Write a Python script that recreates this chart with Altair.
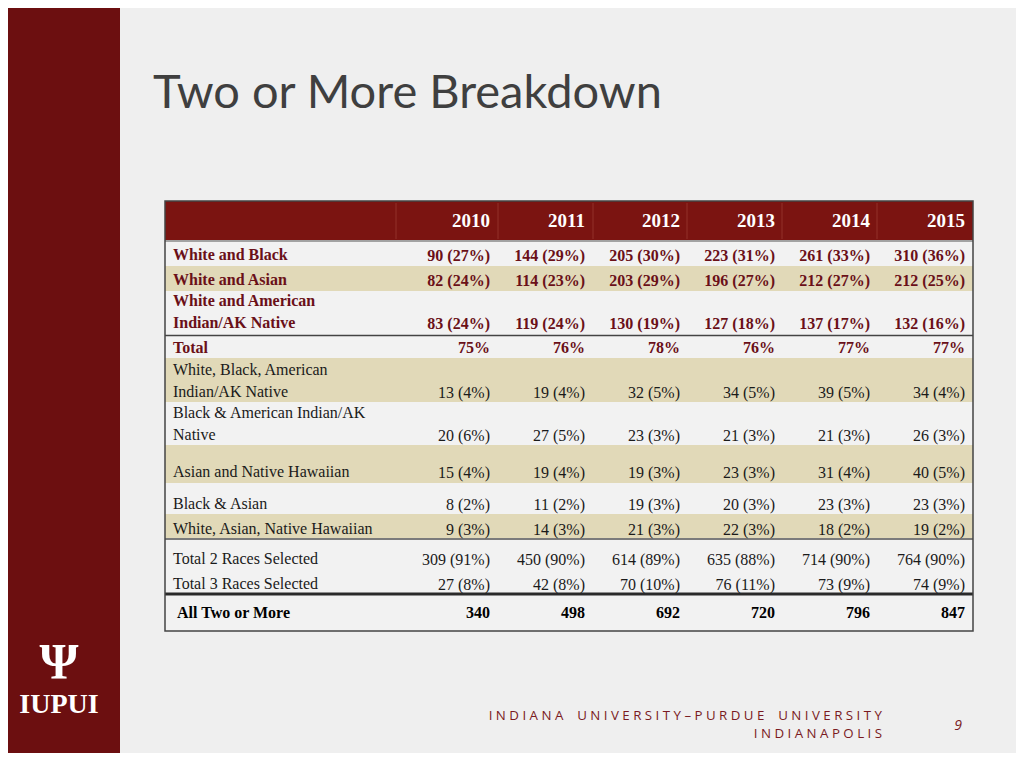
import altair as alt
import pandas as pd

# ---------------- data ----------------
title = "Two or More Breakdown"
years = ["2010", "2011", "2012", "2013", "2014", "2015"]

row_labels = [
    "White and Black",
    "White and Asian",
    "White and American\nIndian/AK Native",
    "Total",
    "White, Black, American\nIndian/AK Native",
    "Black & American Indian/AK\nNative",
    "Asian and Native Hawaiian",
    "Black & Asian",
    "White, Asian, Native Hawaiian",
    "Total 2 Races Selected",
    "Total 3 Races Selected",
    "All Two or More",
]

n_white_black = [90, 144, 205, 223, 261, 310]
p_white_black = [27, 29, 30, 31, 33, 36]
n_white_asian = [82, 114, 203, 196, 212, 212]
p_white_asian = [24, 23, 29, 27, 27, 25]
n_white_aian = [83, 119, 130, 127, 137, 132]
p_white_aian = [24, 24, 19, 18, 17, 16]
p_total = [75, 76, 78, 76, 77, 77]
n_wb_aian = [13, 19, 32, 34, 39, 34]
p_wb_aian = [4, 4, 5, 5, 5, 4]
n_b_aian = [20, 27, 23, 21, 21, 26]
p_b_aian = [6, 5, 3, 3, 3, 3]
n_asian_nh = [15, 19, 19, 23, 31, 40]
p_asian_nh = [4, 4, 3, 3, 4, 5]
n_black_asian = [8, 11, 19, 20, 23, 23]
p_black_asian = [2, 2, 3, 3, 3, 3]
n_w_a_nh = [9, 14, 21, 22, 18, 19]
p_w_a_nh = [3, 3, 3, 3, 2, 2]
n_total2 = [309, 450, 614, 635, 714, 764]
p_total2 = [91, 90, 89, 88, 90, 90]
n_total3 = [27, 42, 70, 76, 73, 74]
p_total3 = [8, 8, 10, 11, 9, 9]
n_all = [340, 498, 692, 720, 796, 847]

row_counts = [n_white_black, n_white_asian, n_white_aian, None, n_wb_aian, n_b_aian,
              n_asian_nh, n_black_asian, n_w_a_nh, n_total2, n_total3, n_all]
row_pcts = [p_white_black, p_white_asian, p_white_aian, p_total, p_wb_aian, p_b_aian,
            p_asian_nh, p_black_asian, p_w_a_nh, p_total2, p_total3, None]

footer_line1 = "INDIANA UNIVERSITY–PURDUE UNIVERSITY"
footer_line2 = "INDIANAPOLIS"
page_number = "9"
logo_text = "IUPUI"
logo_symbol = "Ψ"

# ---------------- layout (slide pixel space) ----------------
col_right = [490, 585, 680, 775, 870, 965]
header_sep = [396, 498, 593, 687, 782, 877]
tbl_left, tbl_right, tbl_top, tbl_bottom = 165, 973, 201, 631
header_bottom = 240
header_y = 221
label_x = [173] * 11 + [177]
label_line_y = [[255], [280], [301, 323], [348], [370, 392], [413, 435], [472],
                [504], [529], [559], [584], [613]]
value_y = [256, 281, 324, 348, 393, 436, 473, 505, 530, 560, 585, 613]
row_bands = [(241, 266), (266, 291), (291, 335), (336, 358), (358, 402), (402, 445),
             (445, 483), (483, 514), (514, 538), (540, 567), (567, 593), (595, 631)]
row_tan = [False, True, False, False, True, False, True, False, True, False, False, False]
row_style = ["red"] * 4 + ["plain"] * 7 + ["black"]

SLIDE_BG = "#efefef"
LIGHT_ROW = "#f2f2f2"
TAN = "#e1d9b8"
STRIP = "#6c0f10"
HEADER = "#7b1411"
DARK_RED = "#6a1018"
BLACK = "#1a1a1a"

xs = alt.Scale(domain=[0, 1024], range=[-8, 1016])
ys = alt.Scale(domain=[0, 768], range=[-8, 760])


def X(f="x"):
    return alt.X(f"{f}:Q", scale=xs, axis=None)


def Y(f="y"):
    return alt.Y(f"{f}:Q", scale=ys, axis=None)


# ---------------- rectangles ----------------
rects = [dict(x=0, x2=120, y=0, y2=768, fill=STRIP),
         dict(x=tbl_left, x2=tbl_right, y=tbl_top, y2=header_bottom, fill=HEADER)]
for (a, b), tan in zip(row_bands, row_tan):
    rects.append(dict(x=tbl_left, x2=tbl_right, y=a, y2=b, fill=TAN if tan else LIGHT_ROW))
rect_df = pd.DataFrame(rects)
rect_layer = alt.Chart(rect_df).mark_rect().encode(
    x=X("x"), x2="x2:Q", y=Y("y"), y2="y2:Q", color=alt.Color("fill:N", scale=None))

# ---------------- rules ----------------
rules = []
for sx in header_sep:
    rules.append(dict(x=sx, x2=sx, y=tbl_top + 2, y2=header_bottom - 1, c="#93302b", w=1))
rules += [
    dict(x=tbl_left, x2=tbl_right, y=241, y2=241, c="#555555", w=1),
    dict(x=tbl_left, x2=tbl_right, y=335.5, y2=335.5, c="#444444", w=1.5),
    dict(x=tbl_left, x2=tbl_right, y=539, y2=539, c="#555555", w=1.5),
    dict(x=tbl_left, x2=tbl_right, y=594, y2=594, c="#2a2a2a", w=3),
]
rule_df = pd.DataFrame(rules)
rule_layer = alt.Chart(rule_df).mark_rule().encode(
    x=X("x"), x2="x2:Q", y=Y("y"), y2="y2:Q",
    color=alt.Color("c:N", scale=None), strokeWidth=alt.StrokeWidth("w:Q", scale=None))

border_df = pd.DataFrame([dict(x=tbl_left, x2=tbl_right, y=tbl_top, y2=tbl_bottom)])
border_layer = alt.Chart(border_df).mark_rect(fill=None, stroke="#444444", strokeWidth=1.5).encode(
    x=X("x"), x2="x2:Q", y=Y("y"), y2="y2:Q")

# ---------------- table text ----------------
header_df = pd.DataFrame(dict(x=col_right, y=[header_y] * 6, t=years))
header_layer = alt.Chart(header_df).mark_text(
    align="right", baseline="middle", font="Liberation Serif", fontSize=19,
    fontWeight="bold", color="white").encode(x=X(), y=Y(), text="t:N")

label_rows, value_rows = [], []
for i, lab in enumerate(row_labels):
    for line, ly in zip(lab.split("\n"), label_line_y[i]):
        label_rows.append(dict(x=label_x[i], y=ly, t=line, s=row_style[i]))
    for j in range(6):
        n = row_counts[i]
        p = row_pcts[i]
        if n is None:
            txt = f"{p[j]}%"
        elif p is None:
            txt = f"{n[j]}"
        else:
            txt = f"{n[j]} ({p[j]}%)"
        value_rows.append(dict(x=col_right[j], y=value_y[i], t=txt, s=row_style[i]))
label_df = pd.DataFrame(label_rows)
value_df = pd.DataFrame(value_rows)

style_map = {"red": ("bold", DARK_RED), "plain": ("normal", BLACK), "black": ("bold", "#000000")}
text_layers = []
for s, (fw, col) in style_map.items():
    text_layers.append(alt.Chart(label_df[label_df.s == s]).mark_text(
        align="left", baseline="middle", font="Liberation Serif", fontSize=16,
        fontWeight=fw, color=col).encode(x=X(), y=Y(), text="t:N"))
    text_layers.append(alt.Chart(value_df[value_df.s == s]).mark_text(
        align="right", baseline="middle", font="Liberation Serif", fontSize=16,
        fontWeight=fw, color=col).encode(x=X(), y=Y(), text="t:N"))

# ---------------- slide text ----------------
title_layer = alt.Chart(pd.DataFrame([dict(x=153, y=108, t=title)])).mark_text(
    align="left", baseline="alphabetic", font="Lato", fontSize=47,
    color="#3f3f3f").encode(x=X(), y=Y(), text="t:N")


def spaced(s):
    return " ".join("\u00a0\u00a0" if ch == " " else ch for ch in s)


footer_df = pd.DataFrame([dict(x=882, y=716, t=spaced(footer_line1)),
                          dict(x=882, y=734, t=spaced(footer_line2))])
footer_layer = alt.Chart(footer_df).mark_text(
    align="right", baseline="middle", font="Open Sans", fontSize=13.3,
    color="#7a1a22").encode(x=X(), y=Y(), text="t:N")

page_layer = alt.Chart(pd.DataFrame([dict(x=958, y=726, t=page_number)])).mark_text(
    align="center", baseline="middle", font="Open Sans", fontSize=14, fontStyle="italic",
    color="#7a1a22").encode(x=X(), y=Y(), text="t:N")

logo_sym_layer = alt.Chart(pd.DataFrame([dict(x=59, y=663, t=logo_symbol)])).mark_text(
    align="center", baseline="middle", font="Liberation Serif", fontSize=50, fontWeight="bold",
    color="white").encode(x=X(), y=Y(), text="t:N")
logo_txt_layer = alt.Chart(pd.DataFrame([dict(x=59, y=705, t=logo_text)])).mark_text(
    align="center", baseline="middle", font="Liberation Serif", fontSize=28, fontWeight="bold",
    color="white").encode(x=X(), y=Y(), text="t:N")

chart = alt.layer(
    rect_layer, rule_layer, border_layer, header_layer, *text_layers,
    title_layer, footer_layer, page_layer, logo_sym_layer, logo_txt_layer,
).properties(
    width=1008, height=745, background=SLIDE_BG, padding=0,
    autosize=alt.AutoSizeParams(type="none"),
).configure_view(stroke=None)

chart.save("out.html", embed_options={"renderer": "svg", "actions": False})
